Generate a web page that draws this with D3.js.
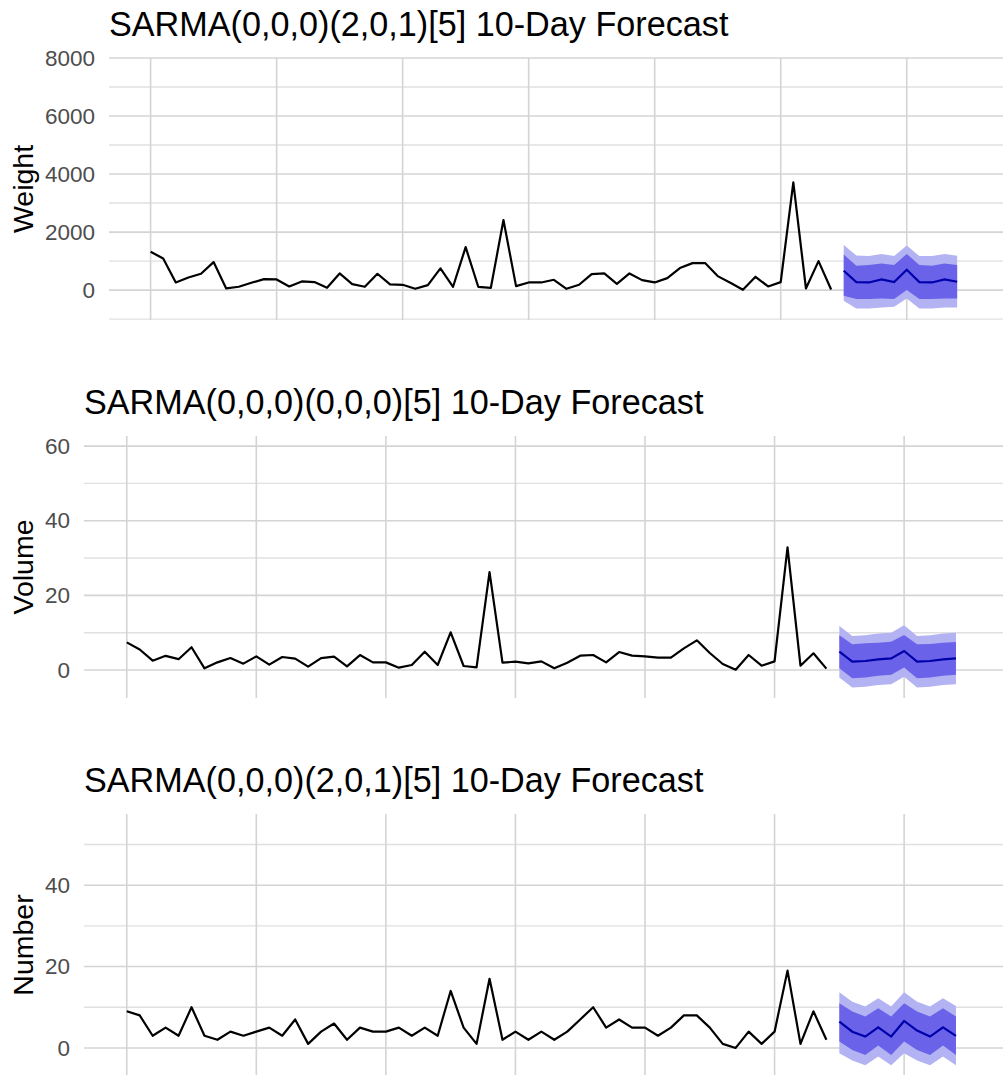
<!DOCTYPE html>
<html>
<head>
<meta charset="utf-8">
<script src="https://cdn.jsdelivr.net/npm/d3@7"></script>
<style>
  html, body { margin: 0; padding: 0; background: #fff; }
  svg { display: block; font-family: "Liberation Sans", Arial, Helvetica, sans-serif; }
</style>
</head>
<body>
<svg id="chart" width="1003" height="1075"></svg>
<script>
// ---- Observed daily series (55 days) ----
const weightObs = [1321, 1092, 264, 437, 563, 966, 57, 115, 253, 379,
  368, 126, 299, 276, 80, 575, 207, 115, 563, 195,
  184, 46, 172, 747, 115, 1483, 115, 80, 2414, 138,
  264, 264, 356, 46, 184, 552, 575, 218, 575, 345,
  264, 414, 759, 931, 931, 483, 253, 12, 460, 126,
  276, 3713, 57, 1000, 23];
const volumeObs = [7.4, 5.5, 2.5, 3.8, 2.9, 6.1, 0.45, 2.05, 3.2, 1.7,
  3.66, 1.43, 3.48, 3.04, 0.89, 3.2, 3.57, 0.98, 4.0, 2.05,
  2.05, 0.63, 1.34, 4.91, 1.34, 10.09, 1.07, 0.71, 26.25, 1.96,
  2.23, 1.79, 2.32, 0.45, 1.96, 3.84, 4.02, 2.05, 4.82, 3.84,
  3.66, 3.3, 3.3, 5.8, 7.95, 4.55, 1.61, 0.09, 4.02, 1.16,
  2.32, 32.86, 1.16, 4.47, 0.36];
const numberObs = [9, 8, 3, 5, 3, 10, 3, 2, 4, 3,
  4, 5, 3, 7, 1, 4, 6, 2, 5, 4,
  4, 5, 3, 5, 3, 14, 5, 1, 17, 2,
  4, 2, 4, 2, 4, 7, 10, 5, 7, 5,
  5, 3, 5, 8, 8, 5, 1, 0, 4, 1,
  4, 19, 1, 9, 2];

// ---- 10-day forecasts: point forecast with 80% and 95% intervals ----
const weightMean = [667, 276, 264, 368, 276, 701, 276, 264, 368, 287];
const weightHi80 = [1230, 839, 862, 920, 862, 1241, 862, 839, 920, 862];
const weightLo80 = [-195, -310, -310, -287, -310, 0, -310, -310, -287, -287];
const weightHi95 = [1552, 1195, 1172, 1241, 1172, 1540, 1172, 1172, 1241, 1184];
const weightLo95 = [-368, -632, -632, -598, -575, -287, -632, -632, -598, -598];

const volumeMean = [4.91, 2.23, 2.41, 2.86, 3.12, 5.09, 2.23, 2.41, 2.86, 3.12];
const volumeHi80 = [9.29, 6.88, 7.14, 7.32, 7.59, 9.38, 6.88, 7.0, 7.32, 7.5];
const volumeLo80 = [0.5, -2.2, -2.0, -1.55, -1.3, 0.7, -2.2, -2.0, -1.55, -1.3];
const volumeHi95 = [11.8, 9.1, 9.3, 9.8, 10.0, 12.0, 9.1, 9.3, 9.8, 10.0];
const volumeLo95 = [-2.0, -4.7, -4.5, -4.0, -3.8, -1.8, -4.7, -4.5, -4.0, -3.8];

const numberMean = [6.47, 4.0, 2.8, 5.08, 2.8, 6.63, 4.26, 2.8, 5.08, 2.95];
const numberHi80 = [10.97, 8.93, 7.7, 9.75, 7.7, 10.97, 8.93, 7.7, 9.75, 7.7];
const numberLo80 = [1.56, -0.49, -1.72, 0.6, -1.72, 1.56, -0.49, -1.72, 0.6, -1.72];
const numberHi95 = [13.68, 11.38, 10.16, 12.2, 10.16, 13.68, 11.38, 10.16, 12.2, 10.3];
const numberLo95 = [-1.31, -3.11, -4.26, -2.13, -4.26, -1.31, -3.11, -4.26, -2.13, -4.26];

// ---- Titles, axis labels and ticks ----
const titles = [
  "SARMA(0,0,0)(2,0,1)[5] 10-Day Forecast",
  "SARMA(0,0,0)(0,0,0)[5] 10-Day Forecast",
  "SARMA(0,0,0)(2,0,1)[5] 10-Day Forecast"
];
const yTitles = ["Weight", "Volume", "Number"];
const weightTicks = [0, 2000, 4000, 6000, 8000];
const weightMinor = [-1000, 1000, 3000, 5000, 7000];
const volumeTicks = [0, 20, 40, 60];
const volumeMinor = [10, 30, 50];
const numberTicks = [0, 20, 40];
const numberMinor = [10, 30, 50];
const xBreaks = [1, 11, 21, 31, 41, 51, 61];

const panels = [
  { obs: weightObs, mean: weightMean, lo80: weightLo80, hi80: weightHi80, lo95: weightLo95, hi95: weightHi95,
    ticks: weightTicks, minor: weightMinor, yDomain: [-1030, 8000],
    left: 109, top: 58, bottom: 320, titleY: 36 },
  { obs: volumeObs, mean: volumeMean, lo80: volumeLo80, hi80: volumeHi80, lo95: volumeLo95, hi95: volumeHi95,
    ticks: volumeTicks, minor: volumeMinor, yDomain: [-7.5, 62.7],
    left: 84, top: 436, bottom: 698, titleY: 414 },
  { obs: numberObs, mean: numberMean, lo80: numberLo80, hi80: numberHi80, lo95: numberLo95, hi95: numberHi95,
    ticks: numberTicks, minor: numberMinor, yDomain: [-6.9, 57.5],
    left: 84, top: 814, bottom: 1076, titleY: 792 }
];

const svg = d3.select("#chart");
const right = 1003;

panels.forEach((p, k) => {
  const n = p.obs.length;
  const x = d3.scaleLinear().domain([-2.3, 68.4]).range([p.left, 1000]);
  const y = d3.scaleLinear().domain(p.yDomain).range([p.bottom, p.top]);
  const g = svg.append("g");

  // grid
  g.selectAll(".minor").data(p.minor).join("line")
    .attr("x1", p.left).attr("x2", right)
    .attr("y1", d => y(d)).attr("y2", d => y(d))
    .attr("stroke", "#e0e0e0").attr("stroke-width", 1.4);
  g.selectAll(".major").data(p.ticks).join("line")
    .attr("x1", p.left).attr("x2", right)
    .attr("y1", d => y(d)).attr("y2", d => y(d))
    .attr("stroke", "#d4d4d4").attr("stroke-width", 1.6);
  g.selectAll(".vgrid").data(xBreaks).join("line")
    .attr("x1", d => x(d)).attr("x2", d => x(d))
    .attr("y1", p.top).attr("y2", p.bottom)
    .attr("stroke", "#d4d4d4").attr("stroke-width", 1.6);

  // y axis tick labels
  const yAxis = d3.axisLeft(y).tickValues(p.ticks).tickSize(0).tickPadding(14)
    .tickFormat(d3.format("d"));
  const ax = g.append("g").attr("transform", `translate(${p.left},0)`).call(yAxis);
  ax.select(".domain").remove();
  ax.selectAll("text").attr("fill", "#4d4d4d").attr("font-size", 22.5)
    .attr("font-family", "'Liberation Sans', Arial, sans-serif");

  // y axis title
  svg.append("text")
    .attr("transform", `translate(33,${(p.top + p.bottom) / 2}) rotate(-90)`)
    .attr("text-anchor", "middle")
    .attr("font-size", 28.5).attr("fill", "#000")
    .text(yTitles[k]);

  // panel title
  svg.append("text")
    .attr("x", p.left).attr("y", p.titleY)
    .attr("font-size", 34.2).attr("fill", "#000")
    .text(titles[k]);

  // observed series
  const line = d3.line().x((d, i) => x(i + 1)).y(d => y(d));
  g.append("path").datum(p.obs)
    .attr("d", line).attr("fill", "none")
    .attr("stroke", "#000").attr("stroke-width", 2.2).attr("stroke-linejoin", "round");

  // forecast intervals
  const fc = p.mean.map((m, i) => ({
    t: n + 1 + i, mean: m, lo80: p.lo80[i], hi80: p.hi80[i], lo95: p.lo95[i], hi95: p.hi95[i]
  }));
  const band = (lo, hi) => d3.area().x(d => x(d.t)).y0(d => y(d[lo])).y1(d => y(d[hi]));
  g.append("path").datum(fc).attr("d", band("lo95", "hi95")).attr("fill", "#b3b2f2");
  g.append("path").datum(fc).attr("d", band("lo80", "hi80")).attr("fill", "#6a63e9");
  g.append("path").datum(fc)
    .attr("d", d3.line().x(d => x(d.t)).y(d => y(d.mean)))
    .attr("fill", "none").attr("stroke", "#0000aa").attr("stroke-width", 2.2);
});
</script>
</body>
</html>
